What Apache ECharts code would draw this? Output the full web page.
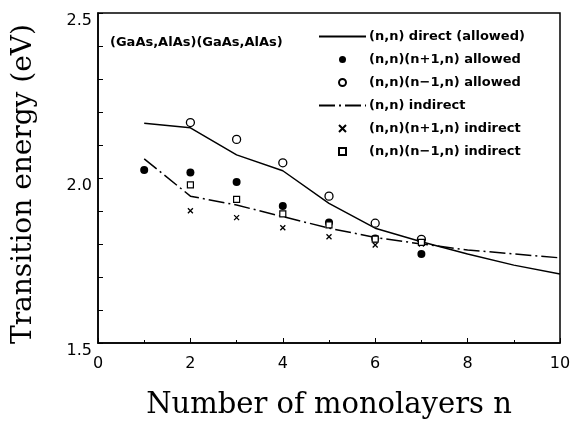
<!DOCTYPE html>
<html>
<head>
<meta charset="utf-8">
<script src="https://cdn.jsdelivr.net/npm/echarts@6/dist/echarts.min.js"></script>
<style>
  html, body { margin: 0; padding: 0; background: #fff; }
  #chart { width: 581px; height: 421px; }
</style>
</head>
<body>
<div id="chart"></div>
<script>
// layer counts n
const nLine = [1, 2, 3, 4, 5, 6, 7, 8, 9, 10];
const nPoints = [2, 3, 4, 5, 6, 7];
const nFilled = [1, 2, 3, 4, 5, 6, 7];

// transition energies (eV)
const directLine = [2.166, 2.152, 2.070, 2.022, 1.923, 1.848, 1.807, 1.770, 1.736, 1.709];
const indirectLine = [2.058, 1.945, 1.918, 1.883, 1.848, 1.820, 1.800, 1.782, 1.770, 1.758];
const plusAllowed = [2.024, 2.017, 1.988, 1.915, 1.865, 1.817, 1.770];
const minusAllowed = [2.168, 2.117, 2.046, 1.945, 1.863, 1.814];
const plusIndirect = [1.901, 1.880, 1.849, 1.822, 1.797, 1.800];
const minusIndirect = [1.979, 1.935, 1.891, 1.858, 1.815, 1.805];

const xTicks = [0, 2, 4, 6, 8, 10];
const yTicks = [1.5, 2.0, 2.5];

const names = [
  '(n,n) direct (allowed)',
  '(n,n)(n+1,n) allowed',
  '(n,n)(n\u22121,n) allowed',
  '(n,n) indirect',
  '(n,n)(n+1,n) indirect',
  '(n,n)(n\u22121,n) indirect'
];

const zip = (xs, ys) => xs.map((x, i) => [x, ys[i]]);
const crossPath = 'path://M0,0L10,10M10,0L0,10';
const squarePath = 'path://M0,0L10,0L10,10L0,10Z';
const noSymbol = { color: 'transparent', borderWidth: 0, opacity: 0 };

const chart = echarts.init(document.getElementById('chart'));
chart.setOption({
  animation: false,
  backgroundColor: '#fff',
  grid: {
    left: 98,
    right: 21,
    top: 13,
    bottom: 78,
    outerBoundsMode: 'none',
    show: true,
    borderColor: '#000',
    borderWidth: 1.5
  },
  graphic: [
    {
      type: 'text',
      left: 110,
      top: 36,
      style: {
        text: '(GaAs,AlAs)(GaAs,AlAs)',
        font: 'bold 13px "DejaVu Sans"',
        fill: '#000'
      }
    }
  ],
  legend: {
    orient: 'vertical',
    left: 318,
    top: 30,
    padding: 0,
    itemWidth: 47,
    itemHeight: 7,
    itemGap: 10,
    selectedMode: false,
    textStyle: {
      fontFamily: 'DejaVu Sans',
      fontWeight: 'bold',
      fontSize: 13,
      color: '#000',
      padding: [0, 0, 0, -2]
    },
    data: [
      { name: names[0], itemStyle: noSymbol },
      { name: names[1] },
      { name: names[2] },
      { name: names[3], itemStyle: noSymbol },
      { name: names[4] },
      { name: names[5] }
    ]
  },
  xAxis: {
    type: 'value',
    min: 0,
    max: 10,
    interval: 2,
    name: 'Number of monolayers n',
    nameLocation: 'middle',
    nameGap: 48,
    nameTextStyle: {
      fontFamily: 'DejaVu Serif',
      fontSize: 29,
      color: '#000'
    },
    axisLine: { show: true, lineStyle: { color: '#000', width: 1.5 } },
    axisTick: { show: true, inside: true, length: 5, lineStyle: { color: '#000' } },
    minorTick: { show: true, splitNumber: 2, length: 3, lineStyle: { color: '#000' } },
    splitLine: { show: false },
    axisLabel: {
      fontFamily: 'DejaVu Sans',
      fontSize: 16,
      color: '#000',
      margin: 13,
      formatter: (v) => (xTicks.includes(v) ? String(v) : '')
    }
  },
  yAxis: {
    type: 'value',
    min: 1.5,
    max: 2.5,
    interval: 0.1,
    name: 'Transition energy (eV)',
    nameLocation: 'middle',
    nameGap: 60,
    nameTextStyle: {
      fontFamily: 'DejaVu Serif',
      fontSize: 28,
      color: '#000',
      padding: [0, 12, 0, 0]
    },
    axisLine: { show: true, lineStyle: { color: '#000', width: 1.5 } },
    axisTick: { show: true, inside: true, length: 5, lineStyle: { color: '#000' } },
    splitLine: { show: false },
    axisLabel: {
      fontFamily: 'DejaVu Sans',
      fontSize: 16,
      color: '#000',
      margin: 6,
      verticalAlign: 'top',
      formatter: (v) => {
        const r = Math.round(v * 10) / 10;
        return yTicks.some((t) => Math.abs(t - r) < 1e-6) ? r.toFixed(1) : '';
      }
    }
  },
  series: [
    {
      name: names[0],
      type: 'line',
      data: zip(nLine, directLine),
      symbol: 'none',
      lineStyle: { color: '#000', width: 1.5 },
      itemStyle: { color: '#000' },
      z: 2
    },
    {
      name: names[1],
      type: 'scatter',
      data: zip(nFilled, plusAllowed),
      symbol: 'circle',
      symbolSize: 8,
      itemStyle: { color: '#000', opacity: 1 },
      z: 3
    },
    {
      name: names[2],
      type: 'scatter',
      data: zip(nPoints, minusAllowed),
      symbol: 'circle',
      symbolSize: 8,
      itemStyle: { color: '#fff', borderColor: '#000', borderWidth: 1.3, opacity: 1 },
      z: 3
    },
    {
      name: names[3],
      type: 'line',
      data: zip(nLine, indirectLine),
      symbol: 'none',
      lineStyle: { color: '#000', width: 1.5, type: [16, 4, 2, 4] },
      itemStyle: { color: '#000' },
      z: 2
    },
    {
      name: names[4],
      type: 'scatter',
      data: zip(nPoints, plusIndirect),
      symbol: crossPath,
      symbolSize: 5,
      itemStyle: { color: '#000', borderColor: '#000', borderWidth: 1.3, opacity: 1 },
      z: 3
    },
    {
      name: names[5],
      type: 'scatter',
      data: zip(nPoints, minusIndirect),
      symbol: squarePath,
      symbolSize: 6,
      itemStyle: { color: '#fff', borderColor: '#000', borderWidth: 1.2, opacity: 1 },
      z: 3
    }
  ]
});
</script>
</body>
</html>
